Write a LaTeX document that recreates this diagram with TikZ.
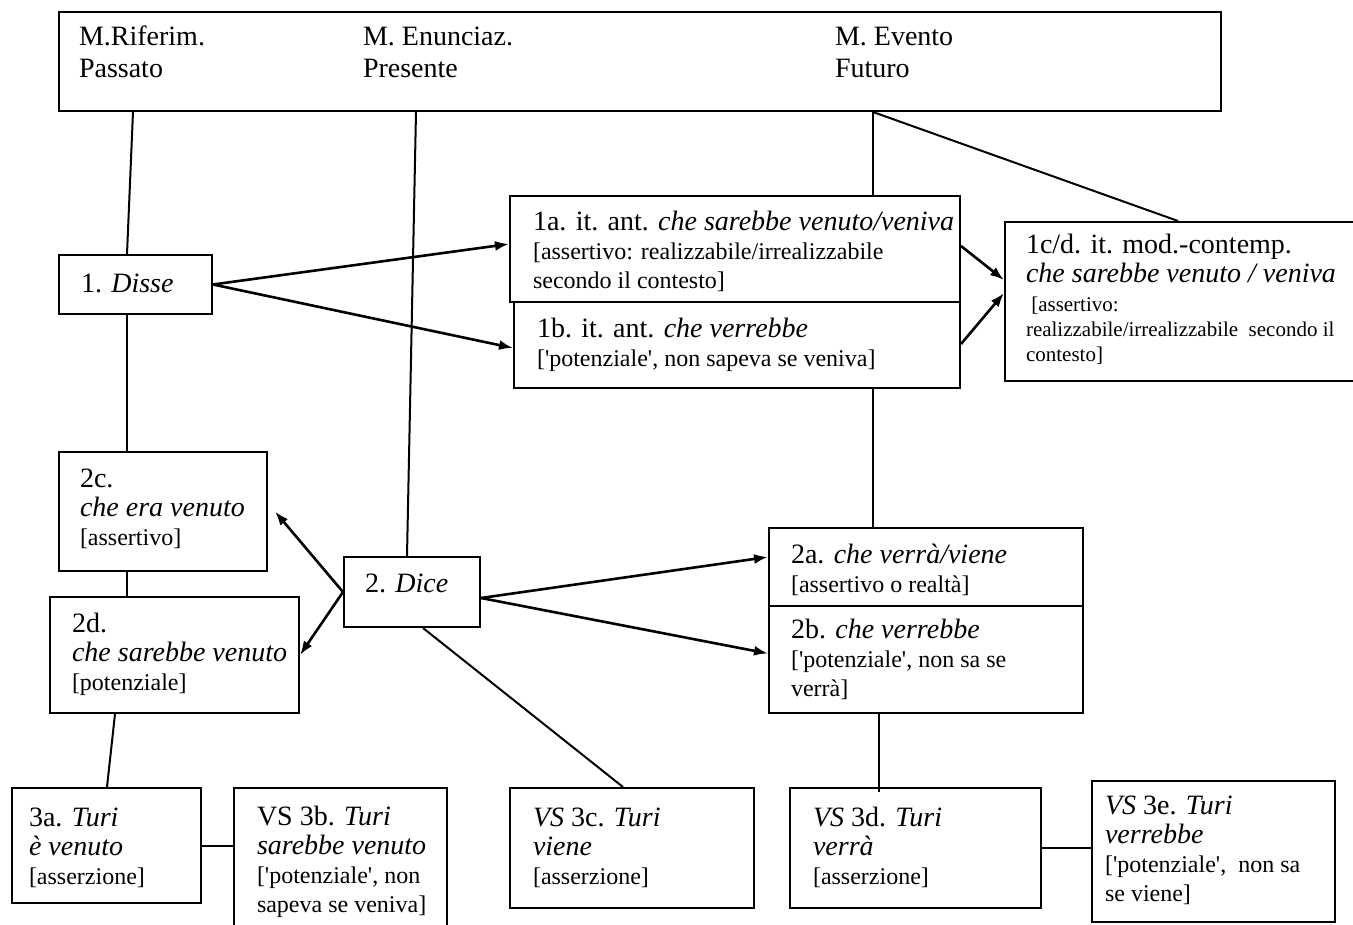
\documentclass[tikz,border=0pt]{standalone}
\usepackage{fontspec}
\setmainfont{Liberation Serif}
\usetikzlibrary{arrows.meta,calc}
\def\px{0.5pt}
\newcommand{\qs}{\textquotesingle}
\newcommand{\smalltxt}{\fontsize{12}{14}\selectfont}

\begin{document}
\begin{tikzpicture}[x=\px, y=-\px, line width=1pt]
    \tikzstyle{box}=[draw, rectangle, anchor=north west, inner sep=0pt]
    % multi-line texts are placed by the baseline of their last line
    \tikzstyle{txt}=[anchor=base west, align=left, inner sep=0pt, font=\fontsize{14}{14.5}\selectfont]
    \tikzstyle{link}=[line width=1pt]
    \tikzstyle{arrow}=[line width=1.3pt, -{Latex[length=7pt,width=5pt]}]

    \useasboundingbox (0,0) rectangle (1353,925);

    % Draw the boxes
    \foreach \name/\x/\y/\w/\h in {top/58/11/1162/99, disse/58/254/153/59,
            n1a/509/195/450/106, n1b/513/301/446/86, n1cd/1004/221/360/159,
            n2c/58/451/208/119, n2d/49/596/249/116, dice/343/556/136/70,
            n2a/768/527/314/78, n2b/768/605/314/107,
            n3a/11/787/189/115, n3b/233/787/213/150, n3c/509/787/244/120,
            n3d/789/787/251/120, n3e/1091/780/243/141}
        \node[box, minimum width=\w*\px, minimum height=\h*\px] (\name) at (\x,\y) {};

    % Texts of the top box
    \foreach \name/\x/\first/\second in {ttop1/78/M.Riferim./Passato,
            ttop2/362/M. Enunciaz./Presente, ttop3/834/M. Evento/Futuro}
        \node[txt, font=\fontsize{14}{16}\selectfont] (\name) at (\x,78) {\first\\\second};

    % Texts of the first level
    \node[txt] (tdisse) at (80,292) {1. \textit{Disse}};
    \node[txt] (t1a) at (532,288) {1a. it. ant. \textit{che sarebbe venuto/veniva}\\\smalltxt[assertivo: realizzabile/irrealizzabile\\\smalltxt secondo il contesto]};
    \node[txt] (t1b) at (536,366) {1b. it. ant. \textit{che verrebbe}\\\smalltxt[\qs potenziale\qs, non sapeva se veniva]};
    \node[txt] (t1cd) at (1025,282) {1c/d. it. mod.-contemp.\\\textit{che sarebbe venuto / veniva}};
    \node[txt, font=\fontsize{10.5}{12.5}\selectfont] (t1cdnote) at (1025,361) {\ [assertivo:\\realizzabile/irrealizzabile\ \ secondo il\\contesto]};

    % Texts of the second level
    \node[txt] (t2c) at (79,545) {2c.\\\textit{che era venuto}\\\smalltxt[assertivo]};
    \node[txt] (t2d) at (71,690) {2d.\\\textit{che sarebbe venuto}\\\smalltxt[potenziale]};
    \node[txt] (tdice) at (364,592) {2. \textit{Dice}};
    \node[txt] (t2a) at (790,592) {2a. \textit{che verrà/viene}\\\smalltxt[assertivo o realtà]};
    \node[txt] (t2b) at (790,696) {2b. \textit{che verrebbe}\\\smalltxt[\qs potenziale\qs, non sa se\\\smalltxt verrà]};

    % Texts of the third level
    \node[txt] (t3a) at (28,884) {3a. \textit{Turi}\\\textit{è venuto}\\\smalltxt[asserzione]};
    \node[txt] (t3b) at (256,912) {VS 3b. \textit{Turi}\\\textit{sarebbe venuto}\\\smalltxt[\qs potenziale\qs, non\\\smalltxt sapeva se veniva]};
    \node[txt] (t3c) at (532,884) {\textit{VS} 3c. \textit{Turi}\\\textit{viene}\\\smalltxt[asserzione]};
    \node[txt] (t3d) at (812,884) {\textit{VS} 3d. \textit{Turi}\\\textit{verrà}\\\smalltxt[asserzione]};
    \node[txt] (t3e) at (1104,901) {\textit{VS} 3e. \textit{Turi}\\\textit{verrebbe}\\\smalltxt[\qs potenziale\qs,\ \ non sa\\\smalltxt se viene]};

    % Lines from the top box
    \draw[link] ($(top.south west)+(75,0)$) -- ($(disse.north west)+(69,0)$);
    \draw[link] ($(top.south west)+(358,0)$) -- ($(dice.north west)+(64,0)$);
    \draw[link] ($(top.south west)+(815,0)$) -- ($(n1a.north west)+(364,0)$);
    \draw[link] ($(top.south west)+(815,0)$) -- ($(n1cd.north west)+(174,0)$);

    % Lines between the levels
    \draw[link] ($(disse.south west)+(69,0)$) -- ($(n2c.north west)+(69,0)$);
    \draw[link] ($(n2c.south west)+(69,0)$) -- ($(n2d.north west)+(78,0)$);
    \draw[link] ($(n2d.south west)+(66,0)$) -- ($(n3a.north west)+(96,0)$);
    \draw[link] ($(n1b.south west)+(360,0)$) -- ($(n2a.north west)+(105,0)$);
    \draw[link] ($(n2b.south west)+(111,0)$) -- ($(n3d.north west)+(90,5)$);
    \draw[link] ($(dice.south west)+(80,0)$) -- ($(n3c.north west)+(114,0)$);
    \draw[link] (n3a.east) -- (n3a.east -| n3b.west);
    \draw[link] (n3d.east) -- (n3d.east -| n3e.west);

    % Arrows
    \draw[arrow] (disse.east) -- ($(n1a.west)+(0,-5)$);
    \draw[arrow] (disse.east) -- ($(n1b.west)+(0,3)$);
    \draw[arrow] ($(n1a.east)+(0,-3)$) -- ($(n1cd.north west)+(0,59)$);
    \draw[arrow] ($(n1b.east)+(0,-1)$) -- ($(n1cd.north west)+(0,72)$);
    \draw[arrow] (dice.west) -- ($(n2c.east)+(7,0)$);
    \draw[arrow] (dice.west) -- (n2d.east);
    \draw[arrow] ($(dice.east)+(0,6)$) -- ($(n2a.west)+(0,-10)$);
    \draw[arrow] ($(dice.east)+(0,6)$) -- ($(n2b.west)+(0,-6)$);
\end{tikzpicture}
\end{document}
